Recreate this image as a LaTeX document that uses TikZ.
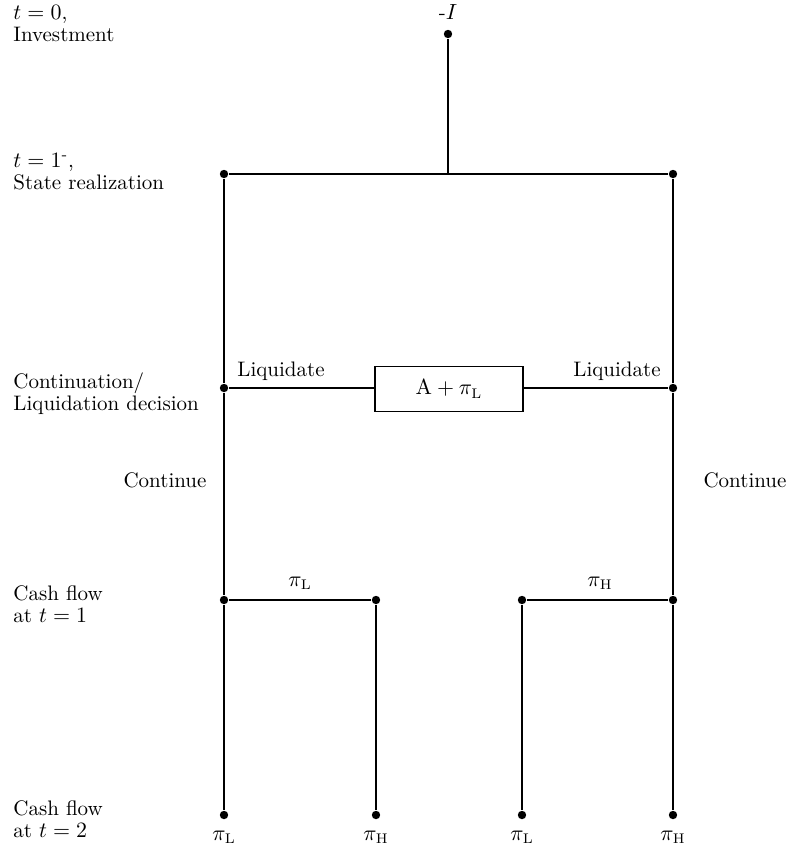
\documentclass[tikz,border=0pt]{standalone}
\usepackage{amsmath}
\usetikzlibrary{positioning}
\begin{document}
\begin{tikzpicture}[x=0.5pt,y=-0.5pt,line width=0.8pt,
    dot/.style={circle,fill,inner sep=0pt,minimum size=4.2pt},
    lbl/.style={font=\fontsize{10.5}{11}\selectfont},
    side/.style={lbl,anchor=west,align=left},
    payoff/.style={lbl,inner sep=1pt}]
  \useasboundingbox (0,0) rectangle (792,848);
  % time labels on the left
  \node[side] (tzero) at (6,24) {$t = 0$,\\Investment};
  \node[side] (tone) at (6,172) {$t = 1^{\text{-}}$,\\State realization};
  \node[side] (tdec) at (6,394) {Continuation/\\Liquidation decision};
  \node[side] (tcfa) at (6,604) {Cash flow\\at $t = 1$};
  \node[side] (tcfb) at (6,819) {Cash flow\\at $t = 2$};
  % tree
  \node[dot] (inv) at (448,34) {};
  \node[lbl,above=1pt of inv] (invlbl) {-$I$};
  \coordinate (split) at (448,174);
  \node[dot] (sL) at (224,174) {};
  \node[dot] (sR) at (673,174) {};
  \node[dot] (dL) at (224,388) {};
  \node[dot] (dR) at (673,388) {};
  \node[draw,lbl,minimum width=74pt,minimum height=22.5pt] (liq) at (449,389) {$\mathrm{A} + \pi_{\mathrm{L}}$};
  \node[dot] (aL) at (224,600) {};
  \node[dot] (aLH) at (376,600) {};
  \node[dot] (aRL) at (522,600) {};
  \node[dot] (aR) at (673,600) {};
  \node[dot] (bLL) at (224,815) {};
  \node[dot] (bLH) at (376,815) {};
  \node[dot] (bRL) at (522,815) {};
  \node[dot] (bRH) at (673,815) {};
  \draw (inv) -- (split);
  \draw (sL) -- (sR);
  \draw (sL) -- (dL) -- (aL) -- (bLL);
  \draw (sR) -- (dR) -- (aR) -- (bRH);
  \draw (dL) -- (liq.west |- dL);
  \draw (liq.east |- dR) -- (dR);
  \draw (aL) -- (aLH) -- (bLH);
  \draw (aR) -- (aRL) -- (bRL);
  % branch labels
  \node[lbl] (liqL) at (281,371) {Liquidate};
  \node[lbl] (liqR) at (617,371) {Liquidate};
  \node[lbl] (contL) at (165,480) {Continue};
  \node[lbl] (contR) at (745,480) {Continue};
  \node[payoff] (pL) at (300,583) {$\pi_{\mathrm{L}}$};
  \node[payoff] (pH) at (600,583) {$\pi_{\mathrm{H}}$};
  \node[payoff,below=4pt of bLL] (qLL) {$\pi_{\mathrm{L}}$};
  \node[payoff,below=4pt of bLH] (qLH) {$\pi_{\mathrm{H}}$};
  \node[payoff,below=4pt of bRL] (qRL) {$\pi_{\mathrm{L}}$};
  \node[payoff,below=4pt of bRH] (qRH) {$\pi_{\mathrm{H}}$};
\end{tikzpicture}
\end{document}
